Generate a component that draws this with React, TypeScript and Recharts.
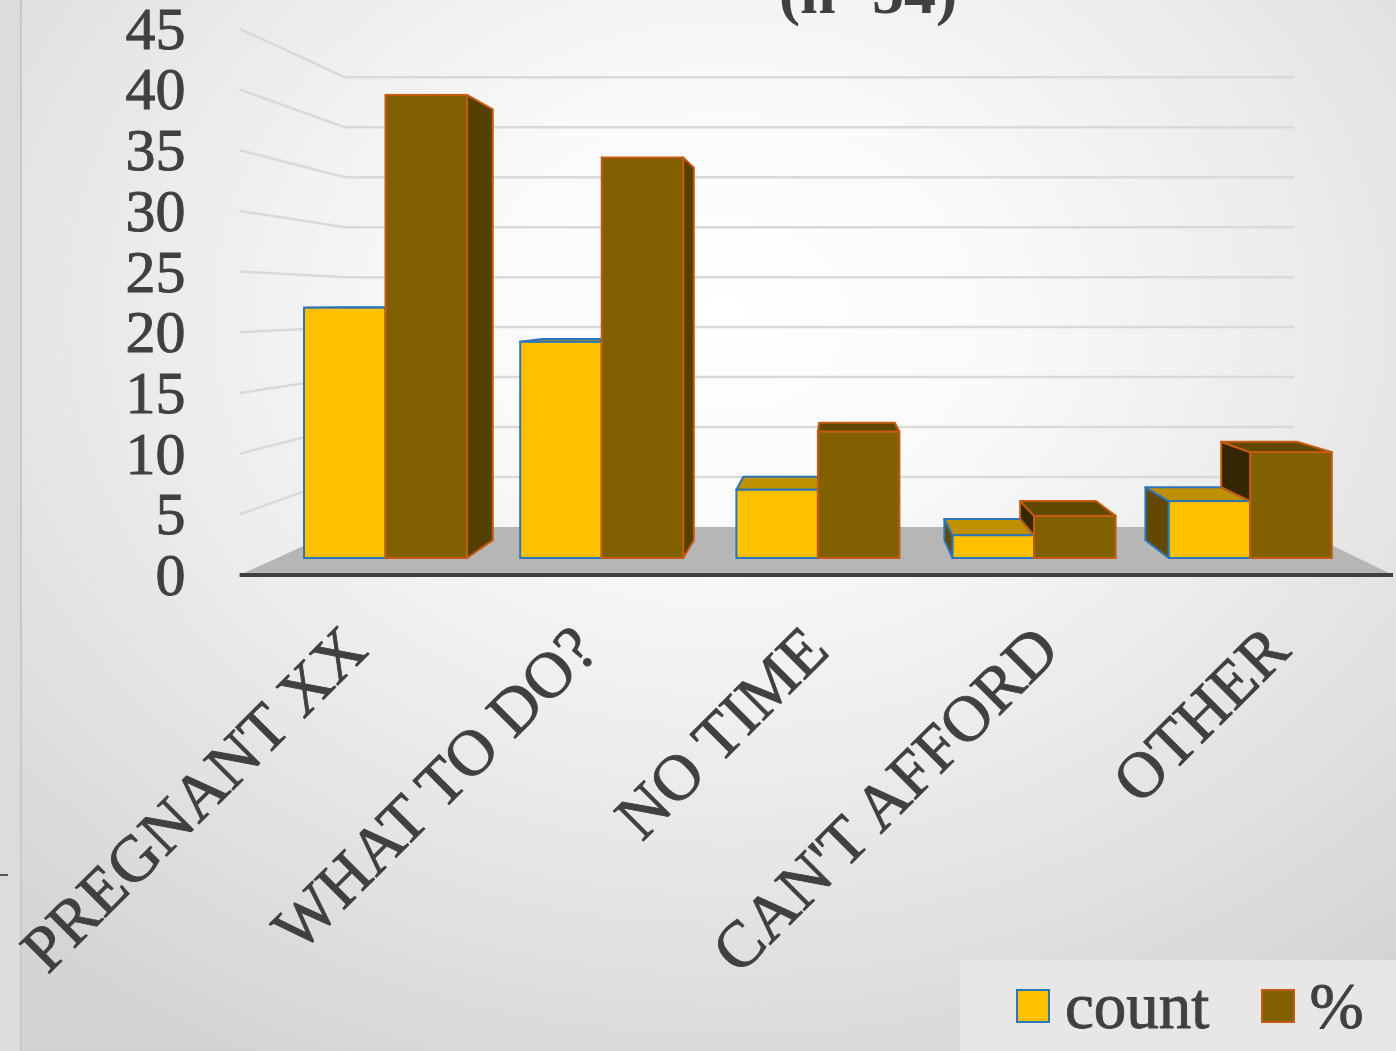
import React from 'react';
import { BarChart, Bar, XAxis, YAxis, CartesianGrid, Legend, Customized } from 'recharts';

// ---- data ----
const categories = ['PREGNANT XX', 'WHAT TO DO?', 'NO TIME', "CAN'T AFFORD", 'OTHER'];
const countValues = [22, 19, 6, 2, 5];
const pctValues = [40.7, 35.2, 11.1, 3.7, 9.3];
const yTicks = [0, 5, 10, 15, 20, 25, 30, 35, 40, 45];
const seriesNames = { count: 'count', pct: '%' };
const titleText = '(n=54)';

const data = categories.map((name, i) => ({ name, count: countValues[i], pct: pctValues[i] }));

// ---- layout / style ----
const W = 1396;
const H = 1051;
const VX = 835; // vanishing point
const VY = 303;
const S_FRONT = 1.067;
const S_BACK = 0.878;
const S_BARBACK = 0.93;
const FONT = '"Liberation Serif", "DejaVu Serif", serif';
const TEXT = '#404040';

const COUNT_STYLE = { front: '#FFC000', top: '#BF9000', left: '#614A00', right: '#614A00', stroke: '#2E75B6' };
const PCT_STYLE = { front: '#806000', top: '#604800', left: '#332600', right: '#533F00', stroke: '#C55A11' };

const proj = (x: number, y: number, s: number): [number, number] => [VX + (x - VX) * s, VY + (y - VY) * s];
const pts = (arr: [number, number][]) => arr.map((p) => `${p[0].toFixed(2)},${p[1].toFixed(2)}`).join(' ');

function makeBox(kind: 'count' | 'pct') {
  const st = kind === 'count' ? COUNT_STYLE : PCT_STYLE;
  return (props: any) => {
    const { x, y, width, height, payload } = props;
    if (x == null || y == null || !width || height == null) return <g />;
    const val = kind === 'count' ? payload.count : payload.pct;
    const other = kind === 'count' ? payload.pct : payload.count;
    const base = y + height;
    const ppu = val > 0 ? height / val : 0;
    const otherTop = base - other * ppu;
    const xl = x;
    const xr = x + width;
    const faces: React.ReactNode[] = [];
    const side = (sx: number, yt: number, yb: number, fill: string, key: string) => (
      <polygon
        key={key}
        points={pts([proj(sx, yt, 1), proj(sx, yt, S_BARBACK), proj(sx, yb, S_BARBACK), proj(sx, yb, 1)])}
        fill={fill}
        stroke={st.stroke}
        strokeWidth={2}
        strokeLinejoin="round"
      />
    );
    if (xl > VX) {
      const yb = kind === 'pct' ? Math.min(base, otherTop) : base;
      if (yb > y + 0.5) faces.push(side(xl, y, yb, st.left, 'l'));
    }
    if (xr < VX) {
      const yb = kind === 'count' ? Math.min(base, otherTop) : base;
      if (yb > y + 0.5) faces.push(side(xr, y, yb, st.right, 'r'));
    }
    if (y > VY) {
      faces.push(
        <polygon
          key="t"
          points={pts([proj(xl, y, 1), proj(xr, y, 1), proj(xr, y, S_BARBACK), proj(xl, y, S_BARBACK)])}
          fill={st.top}
          stroke={st.stroke}
          strokeWidth={2}
          strokeLinejoin="round"
        />
      );
    }
    faces.push(
      <rect key="f" x={xl} y={y} width={width} height={height} fill={st.front} stroke={st.stroke} strokeWidth={2} />
    );
    return <g>{faces}</g>;
  };
}

const CountBox = makeBox('count');
const PctBox = makeBox('pct');

const GridLine = (props: any) => {
  const { x1, x2, y1, y, height } = props;
  const bottom = y != null && height != null ? y + height : 558;
  if (Math.abs(y1 - bottom) < 0.5) {
    const a = proj(x1, y1, S_FRONT);
    const b = proj(x1, y1, S_BACK);
    const c = proj(x2, y1, S_BACK);
    const d = proj(x2, y1, S_FRONT);
    return (
      <g key={`g-${y1}`}>
        <polygon points={pts([a, b, c, d])} fill="#b6b6b6" />
        <line x1={a[0]} y1={a[1]} x2={d[0]} y2={d[1]} stroke="#404040" strokeWidth={4} />
      </g>
    );
  }
  const f = proj(x1, y1, S_FRONT);
  const bl = proj(x1, y1, S_BACK);
  const br = proj(x2, y1, S_BACK);
  return (
    <g key={`g-${y1}`}>
      <line x1={f[0]} y1={f[1]} x2={bl[0]} y2={bl[1]} stroke="#d9d9d9" strokeWidth={2.5} />
      <line x1={bl[0]} y1={bl[1]} x2={br[0]} y2={br[1]} stroke="#d9d9d9" strokeWidth={2.5} />
    </g>
  );
};

const YTick = (props: any) => {
  const { y, payload } = props;
  const fy = VY + (y - VY) * S_FRONT;
  const fx = VX + (277 - VX) * S_FRONT;
  return (
    <text
      x={fx - 54}
      y={fy + 20}
      textAnchor="end"
      fontSize={60}
      fontFamily={FONT}
      fill={TEXT}
      stroke={TEXT}
      strokeWidth={0.9}
    >
      {payload.value}
    </text>
  );
};

const XTick = (props: any) => {
  const { x, payload } = props;
  const fx = VX + (x - VX) * S_FRONT + 15;
  const fy = VY + (558 - VY) * S_FRONT + 78;
  return (
    <text
      x={fx}
      y={fy}
      textAnchor="end"
      fontSize={65}
      fontFamily={FONT}
      fill={TEXT}
      stroke={TEXT}
      strokeWidth={0.9}
      transform={`rotate(-45 ${fx} ${fy})`}
    >
      {payload.value}
    </text>
  );
};

const Title = () => (
  <text x={868} y={13} textAnchor="middle" fontSize={64} fontWeight="bold" fontFamily={FONT} fill={TEXT}>
    {titleText}
  </text>
);

const LegendContent = () => (
  <div
    style={{
      width: 436,
      height: 91,
      background: '#e7e7e7',
      display: 'flex',
      alignItems: 'center',
      fontFamily: FONT,
      color: TEXT,
      fontSize: 65,
      boxSizing: 'border-box',
      paddingLeft: 56,
      WebkitTextStroke: `0.9px ${TEXT}`,
    }}
  >
    <span style={{ display: 'inline-block', width: 30, height: 30, background: COUNT_STYLE.front, border: `2px solid ${COUNT_STYLE.stroke}`, marginRight: 15 }} />
    <span style={{ lineHeight: '60px', marginRight: 52 }}>{seriesNames.count}</span>
    <span style={{ display: 'inline-block', width: 30, height: 30, background: PCT_STYLE.front, border: `2px solid ${PCT_STYLE.stroke}`, marginRight: 14 }} />
    <span style={{ lineHeight: '60px' }}>{seriesNames.pct}</span>
  </div>
);

export default function App() {
  return (
    <div
      style={{
        position: 'absolute',
        left: 0,
        top: 0,
        width: W,
        height: H,
        overflow: 'hidden',
        background:
          'radial-gradient(ellipse 75% 80% at 52% 30%, #ffffff 0%, #fafafa 25%, #e9e9e9 60%, #d4d4d4 100%)',
      }}
    >
      <div style={{ position: 'absolute', left: 0, top: 0, width: 20, height: H, background: '#dcdcdc', borderRight: '2px solid #c9c9c9' }} />
      <div style={{ position: 'absolute', left: 0, top: 874, width: 8, height: 2, background: '#555' }} />
      <BarChart
        width={W}
        height={H}
        data={data}
        margin={{ top: 46, right: 38, bottom: 0, left: 0 }}
        barGap={0}
        barSize={81.5}
      >
        <CartesianGrid vertical={false} horizontal={GridLine as any} />
        <XAxis dataKey="name" height={493} axisLine={false} tickLine={false} tick={XTick as any} interval={0} />
        <YAxis width={277} domain={[0, 45]} ticks={yTicks} axisLine={false} tickLine={false} tick={YTick as any} />
        <Bar dataKey="count" name={seriesNames.count} fill={COUNT_STYLE.front} shape={CountBox as any} isAnimationActive={false} />
        <Bar dataKey="pct" name={seriesNames.pct} fill={PCT_STYLE.front} shape={PctBox as any} isAnimationActive={false} />
        <Legend
          layout="horizontal"
          verticalAlign="middle"
          align="center"
          content={LegendContent as any}
          wrapperStyle={{ left: 960, top: 960, width: 436, height: 91 }}
        />
        <Customized component={Title as any} />
      </BarChart>
    </div>
  );
}
